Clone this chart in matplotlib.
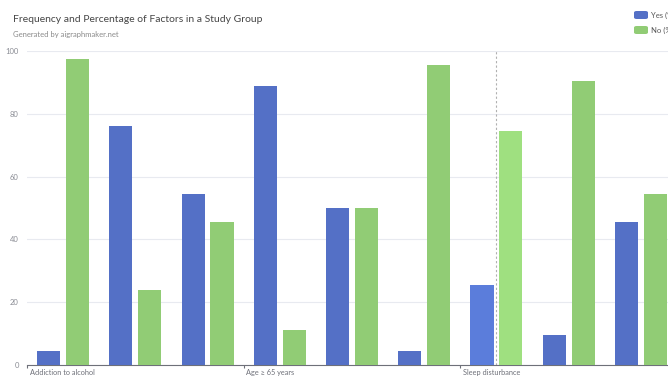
import matplotlib.pyplot as plt
from matplotlib.patches import FancyBboxPatch
from matplotlib.transforms import ScaledTranslation
import numpy as np

# only every third category label is visible in the reference
categories = ["Addiction to alcohol", "Smoking", "Physical inactivity",
              "Age \u2265 65 years", "Obesity", "Drug use",
              "Sleep disturbance", "Family history", "Stress"]
yes_pct = [4.5, 76, 54.5, 89, 50, 4.5, 25.5, 9.5, 45.5]
no_pct = [97.5, 24, 45.5, 11, 50, 95.5, 74.5, 90.5, 54.5]
y_ticks = [0, 20, 40, 60, 80, 100]
hover_index = 6

blue = "#5470c6"
green = "#91cc75"
blue_hi = "#5b7ddb"
green_hi = "#9fe080"
grey = "#6e7079"

plt.rcParams['font.family'] = ['Lato', 'DejaVu Sans']

fig = plt.figure(figsize=(6.68, 3.77), dpi=100)
W, H = 668, 377
ax = fig.add_axes([27 / W, 12 / H, 650 / W, 314 / H])

x = np.arange(len(categories))
yes_colors = [blue_hi if i == hover_index else blue for i in x]
no_colors = [green_hi if i == hover_index else green for i in x]
ax.bar(x - 0.2, yes_pct, width=0.32, color=yes_colors, zorder=3)
ax.bar(x + 0.2, no_pct, width=0.32, color=no_colors, zorder=3)

ax.set_xlim(-0.5, len(categories) - 0.5)
ax.set_ylim(0, 100)
ax.set_yticks(y_ticks)
ax.set_yticklabels([str(t) for t in y_ticks], fontsize=5.5, color="#8a8c94")
ax.tick_params(axis='y', length=0, pad=6)
ax.grid(axis='y', color="#e8eaf0", linewidth=0.8, zorder=0)

# hover crosshair
ax.axvline(hover_index, color="#b0b0b0", linestyle=(0, (2, 2)), linewidth=0.8, zorder=2)

boundaries = [i - 0.5 for i in range(0, len(categories), 3)]
ax.set_xticks(boundaries)
ax.set_xticklabels([categories[i] for i in range(0, len(categories), 3)],
                   fontsize=5.3, color=grey, ha='left', va='top')
ax.tick_params(axis='x', length=2, color=grey, pad=1)
for lab in ax.get_xticklabels():
    lab.set_transform(lab.get_transform() + ScaledTranslation(2 / 72, 0, fig.dpi_scale_trans))

for s in ['top', 'right', 'left']:
    ax.spines[s].set_visible(False)
ax.spines['bottom'].set_color(grey)
ax.spines['bottom'].set_linewidth(0.8)

fig.text(13 / W, 1 - 19 / H, "Frequency and Percentage of Factors in a Study Group",
         fontsize=7.5, color="#464646", va='center', ha='left')
fig.text(13 / W, 1 - 34 / H, "Generated by aigraphmaker.net",
         fontsize=5.5, color="#8a8a8a", va='center', ha='left')

# legend, clipped at the right edge like the reference
for i, (lab, col) in enumerate([("Yes (%)", blue), ("No (%)", green)]):
    yc = 15 + i * 15
    fig.patches.append(FancyBboxPatch((634 / W, 1 - (yc + 4) / H), 14 / W, 8 / H,
                                      boxstyle="round,pad=0,rounding_size=0.004",
                                      transform=fig.transFigure, facecolor=col,
                                      edgecolor='none'))
    fig.text(651 / W, 1 - yc / H, lab, fontsize=5.5, color="#555555",
             va='center', ha='left')

fig.savefig("out.png", dpi=100)
